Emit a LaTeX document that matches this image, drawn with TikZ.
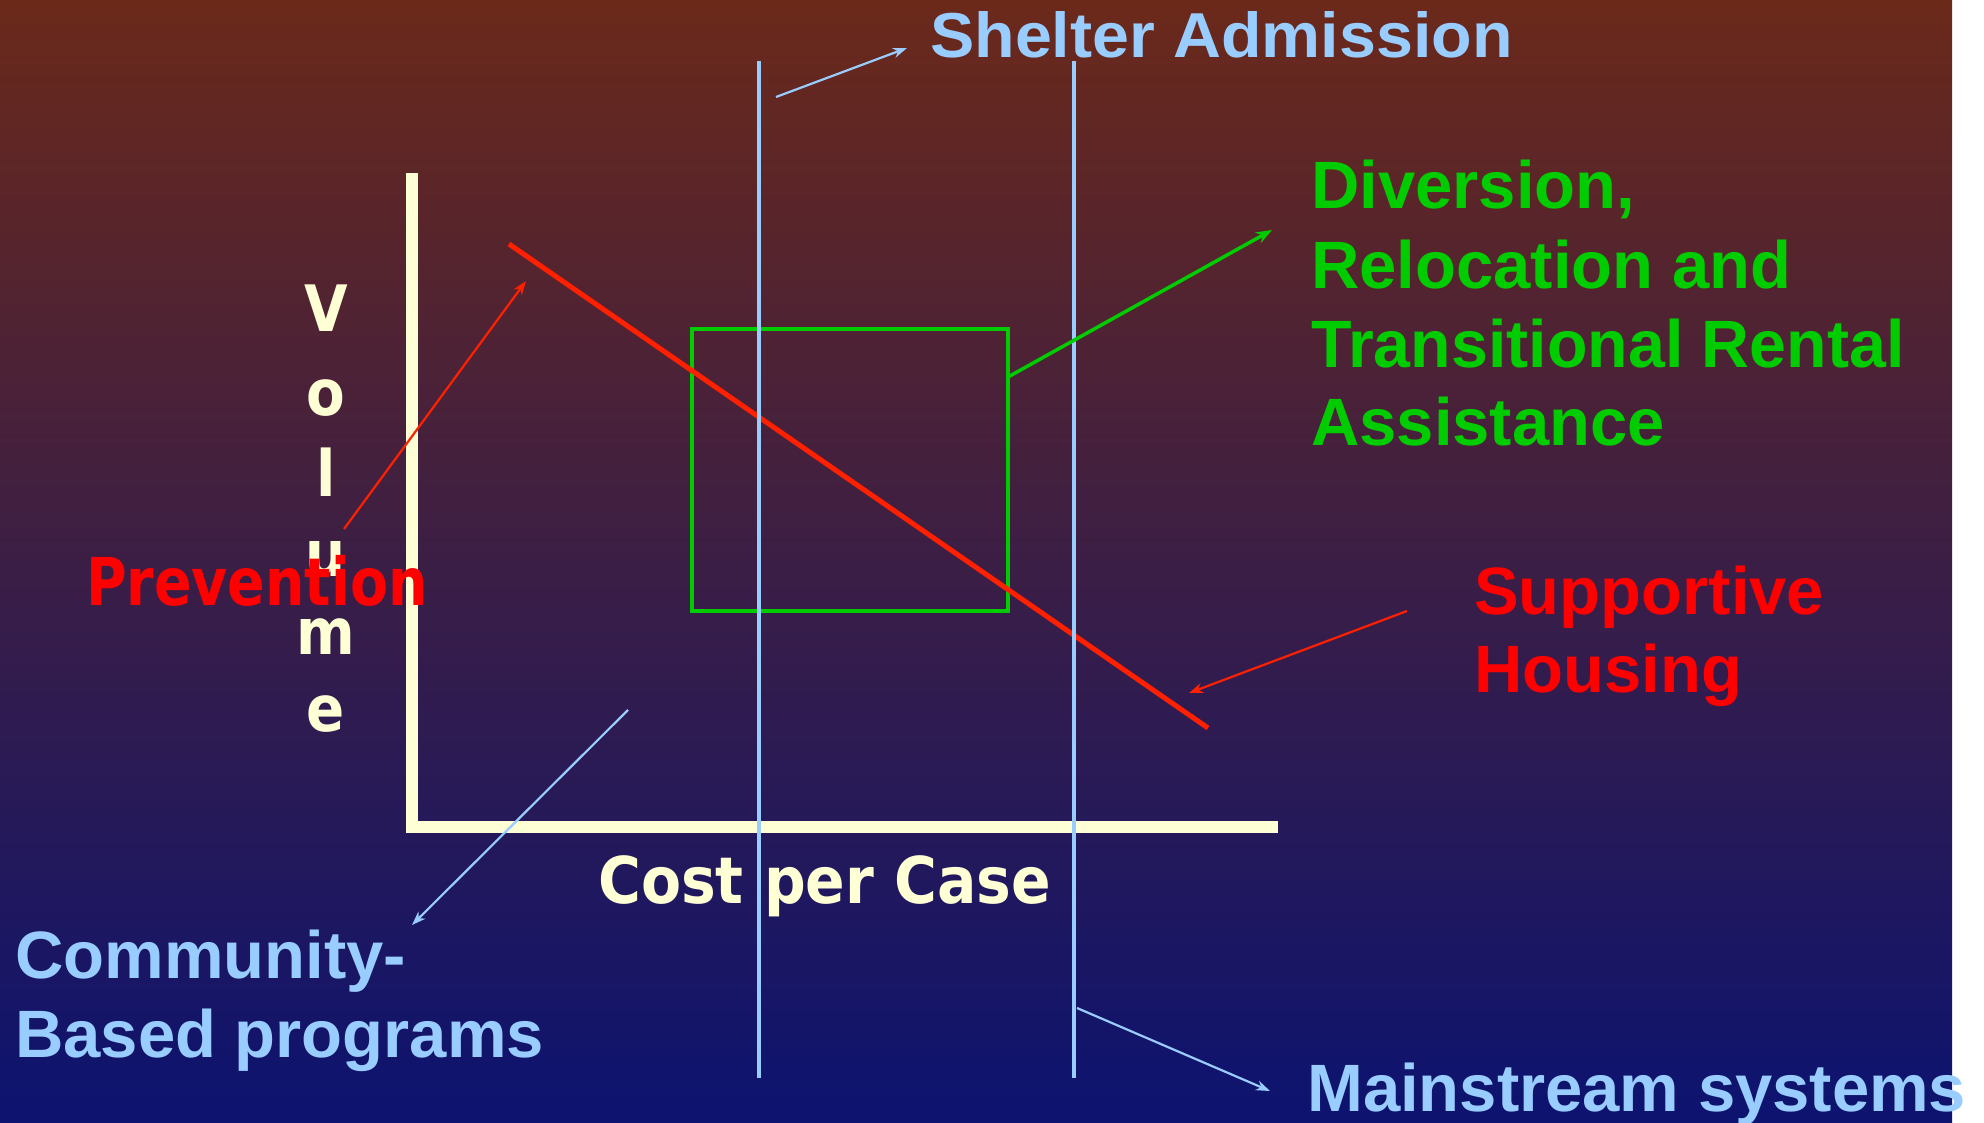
\documentclass[tikz,border=0pt]{standalone}
\usepackage{fontspec}
\setmainfont{Liberation Sans}
\newfontfamily\dvs{DejaVu Sans}
\usetikzlibrary{arrows.meta}
\definecolor{bgtop}{RGB}{107,41,26}
\definecolor{bgmid}{RGB}{74,28,62}
\definecolor{bgbot}{RGB}{12,19,112}
\definecolor{cream}{RGB}{255,255,214}
\definecolor{lblue}{RGB}{153,204,255}
\definecolor{gr}{RGB}{0,204,0}
\definecolor{rd}{RGB}{255,32,0}
\begin{document}
\begin{tikzpicture}[x=1pt,y=-1pt,
  lab/.style={inner sep=0pt, anchor=base west, font=\bfseries\fontsize{67}{80}\selectfont},
  vlab/.style={inner sep=0pt, anchor=base, text=cream, font=\dvs\bfseries\fontsize{64}{76}\selectfont},
  thinarrow/.style={line width=2.2pt, -{Stealth[length=14pt,width=10pt]}},
  vline/.style={lblue, line width=4pt}]
\useasboundingbox (0,0) rectangle (1984,1123);
\fill[white] (0,0) rectangle (1984,1123);
\shade[top color=bgtop, middle color=bgmid, bottom color=bgbot] (0,0) rectangle (1952,1123);

% axes
\coordinate (ytop) at (412,173);
\coordinate (orig) at (412,827);
\coordinate (xend) at (1278,827);
\draw[cream, line width=12pt, line join=miter] (ytop) -- (orig) -- (xend);

% green box
\coordinate (g1) at (692,329);
\coordinate (g2) at (1008,611);
\draw[gr, line width=4pt] (g1) rectangle (g2);

% red line
\coordinate (r1) at (509,244);
\coordinate (r2) at (1208,728);
\draw[rd, line width=5pt] (r1) -- (r2);

% vertical blue lines
\coordinate (b1t) at (759,61);
\coordinate (b1b) at (759,1078);
\coordinate (b2t) at (1074,61);
\coordinate (b2b) at (1074,1078);
\draw[vline] (b1t) -- (b1b);
\draw[vline] (b2t) -- (b2b);

% labels
\node[lab, text=lblue, font=\bfseries\fontsize{63.5}{76}\selectfont] (shelter) at (930,57.6) {\scalebox{1.045}[1]{Shelter Admission}};
\node[lab, text=gr] (div1) at (1311,209) {Diversion,};
\node[lab, text=gr] (div2) at (1311,288.5) {Relocation and};
\node[lab, text=gr] (div3) at (1311,367) {\scalebox{0.99}[1]{Transitional Rental}};
\node[lab, text=gr] (div4) at (1311,445) {Assistance};
\node[lab, text=red] (sup1) at (1474,614) {Supportive};
\node[lab, text=red] (sup2) at (1474,692) {Housing};
\node[lab, text=lblue] (main) at (1307,1111) {Mainstream systems};
\node[lab, text=lblue] (com1) at (15,978) {Community-};
\node[lab, text=lblue] (com2) at (15,1057) {Based programs};
\node[lab, text=cream, font=\dvs\bfseries\fontsize{64.5}{76}\selectfont] (cost) at (598,903) {\scalebox{0.905}[1]{Cost per Case}};

% Volume letters
\node[vlab] (v1) at (326,331) {\scalebox{0.88}[1]{V}};
\node[vlab] (v2) at (326,415) {\scalebox{0.88}[1]{o}};
\node[vlab] (v3) at (326,496) {\scalebox{0.88}[1]{l}};
\node[vlab] (v4) at (326,576) {\scalebox{0.88}[1]{u}};
\node[vlab] (v5) at (326,654) {\scalebox{0.88}[1]{m}};
\node[vlab] (v6) at (326,731) {\scalebox{0.88}[1]{e}};

% arrows
\coordinate (pa1) at (344,529);
\coordinate (pa2) at (526,281);
\draw[thinarrow, rd] (pa1) -- (pa2);
\node[lab, text=red, font=\dvs\bfseries\fontsize{66}{78}\selectfont] (prev) at (86,605) {\scalebox{0.84}[1]{Prevention}};

\coordinate (sa1) at (1407,611);
\coordinate (sa2) at (1189,693);
\draw[thinarrow, rd] (sa1) -- (sa2);

\coordinate (ga1) at (1008,377);
\coordinate (ga2) at (1272,230);
\draw[gr, line width=3.5pt, -{Stealth[length=16pt,width=12pt]}] (ga1) -- (ga2);

\coordinate (sh1) at (776,97);
\coordinate (sh2) at (907,48);
\draw[thinarrow, lblue] (sh1) -- (sh2);

\coordinate (ca1) at (628,710);
\coordinate (ca2) at (412,925);
\draw[thinarrow, lblue] (ca1) -- (ca2);

\coordinate (ma1) at (1077,1008);
\coordinate (ma2) at (1270,1091);
\draw[thinarrow, lblue] (ma1) -- (ma2);
\end{tikzpicture}
\end{document}
